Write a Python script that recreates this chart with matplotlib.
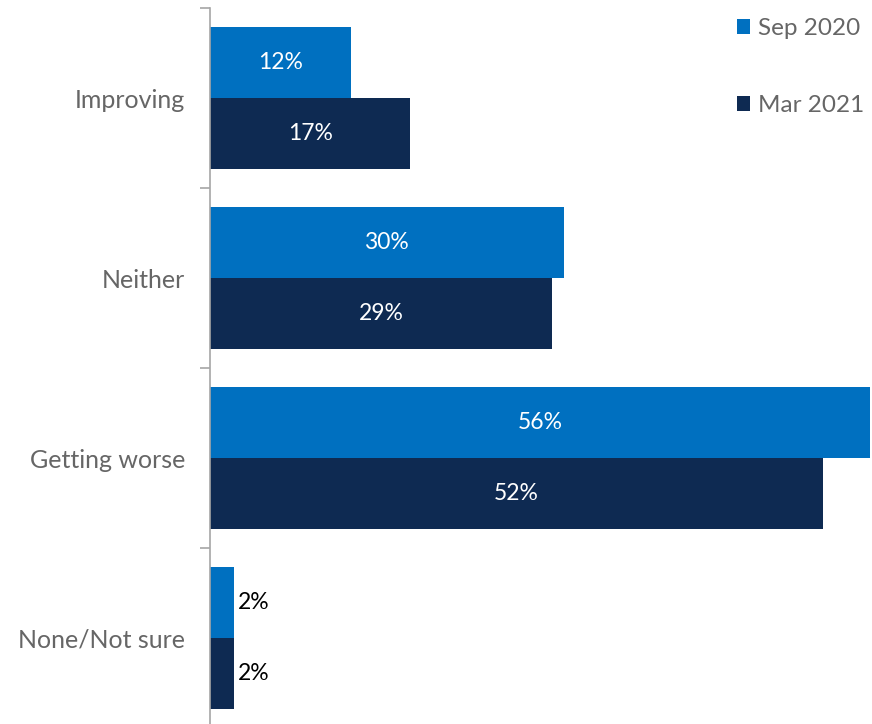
import numpy as np
import matplotlib.pyplot as plt

categories = ["Improving", "Neither", "Getting worse", "None/Not sure"]
sep_2020 = [12, 30, 56, 2]
mar_2021 = [17, 29, 52, 2]
series_names = ["Sep 2020", "Mar 2021"]

blue = "#0070C0"
navy = "#0E2A52"
grey = "#666666"

fig = plt.figure(figsize=(8.72, 7.24), dpi=100)
ax = fig.add_axes([210 / 872, -4 / 724, 660 / 872, 720 / 724])

y = np.arange(len(categories))
h = 0.397
b1 = ax.barh(y - h / 2, sep_2020, height=h, color=blue, label=series_names[0])
b2 = ax.barh(y + h / 2, mar_2021, height=h, color=navy, label=series_names[1])

ax.set_xlim(0, 56)
ax.set_ylim(len(categories) - 0.5, -0.5)

# value labels: inside the bar when there is room, else just past its end
for bars, vals in [(b1, sep_2020), (b2, mar_2021)]:
    for bar, v in zip(bars, vals):
        cy = bar.get_y() + bar.get_height() / 2
        if v >= 5:
            ax.text(v / 2, cy, f"{v}%", ha="center", va="center",
                    color="white", fontsize=16.5, family="Lato")
        else:
            ax.text(v + 0.35, cy, f"{v}%", ha="left", va="center",
                    color="black", fontsize=16.5, family="Lato")

for s in ["top", "right", "bottom"]:
    ax.spines[s].set_visible(False)
ax.spines["left"].set_color("#A6A6A6")
ax.spines["left"].set_linewidth(1.2)
ax.set_xticks([])

ax.set_yticks(y)
ax.set_yticklabels(categories, fontsize=18, color=grey, family="Lato")
ax.tick_params(axis="y", which="major", length=0, pad=18)
ax.set_yticks(np.arange(len(categories) + 1) - 0.5, minor=True)
ax.tick_params(axis="y", which="minor", length=7, width=1.2, color="#A6A6A6")

leg = fig.legend(loc="upper right", bbox_to_anchor=(864 / 872, 1 - 18 / 724),
                 frameon=False, handlelength=0.55, handleheight=0.55,
                 handletextpad=0.3, labelspacing=2.3, borderpad=0,
                 borderaxespad=0,
                 prop={"family": "Lato", "size": 17.5})
for t in leg.get_texts():
    t.set_color(grey)

fig.savefig("out.png", dpi=100)
